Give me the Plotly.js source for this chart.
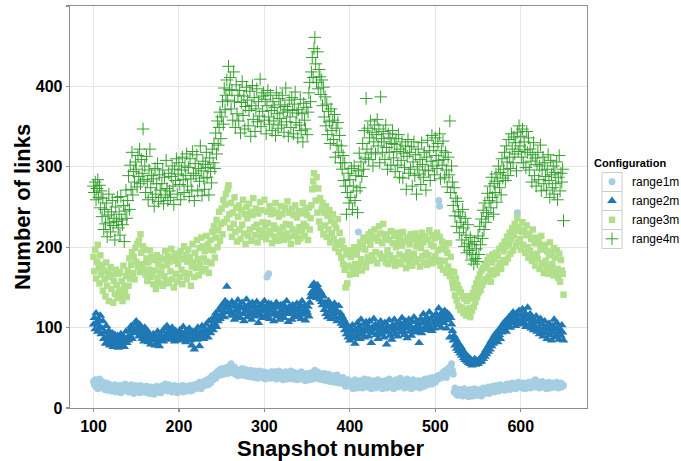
<!DOCTYPE html>
<html>
<head>
<meta charset="utf-8">
<script src="https://cdn.plot.ly/plotly-3.0.1.min.js"></script>
<style>html,body{margin:0;padding:0;background:#fff;}#chart{width:681px;height:461px;}</style>
</head>
<body>
<div id="chart"></div>
<script>
// Snapshot numbers 100..650 (one value per snapshot)
const firstSnapshot = 100;
const seriesNames = ["range1m", "range2m", "range3m", "range4m"];

const range1m = [
33,29,35,27,31,24,30,36,28,26, 33,25,29,23,28,31,22,27,30,24, 26,21,28,25,23,29,20,26,24,27,
22,28,19,25,27,21,24,30,22,26, 25,20,27,23,29,22,26,18,24,28, 23,27,21,25,19,28,24,22,26,20,
24,21,27,19,25,23,18,26,22,20, 23,17,25,21,27,20,24,22,26,19, 25,28,22,26,30,24,27,21,29,25,
23,27,20,26,24,28,22,25,19,27, 24,21,26,22,28,20,25,23,27,21, 26,22,24,28,21,25,27,23,29,24,
26,30,25,28,32,27,24,31,29,33, 28,32,30,35,29,34,37,31,36,40, 35,38,42,37,44,40,46,43,48,41,
45,49,42,47,44,50,46,43,48,52, 47,55,44,49,46,51,42,48,45,40, 44,47,41,45,49,43,46,40,48,44,
42,46,39,44,47,41,45,38,43,46, 40,44,37,42,46,39,43,41,38,45, 41,36,44,163,40,167,43,37,45,39,
42,38,45,40,36,43,39,46,41,37, 44,39,35,42,38,45,40,36,43,37, 40,46,38,42,36,44,39,41,35,43,
38,42,36,45,40,37,43,39,34,41, 37,43,39,35,42,38,44,36,40,47, 42,38,45,40,36,43,39,35,41,37,
43,38,34,40,36,42,37,33,39,35, 40,36,32,38,34,41,35,31,37,33, 36,32,38,30,35,27,33,29,35,31,
28,33,26,31,24,30,35,27,32,25, 219,29,34,27,31,25,30,36,28,32, 26,31,35,28,33,24,30,27,34,29,
25,32,28,35,30,26,33,29,24,31, 27,34,30,25,32,28,36,31,26,33, 29,24,31,27,35,30,26,33,28,37,
31,27,34,29,25,32,28,36,30,26, 33,29,24,31,35,28,33,26,30,34, 28,32,25,30,34,29,33,27,36,31,
34,29,33,37,31,35,30,38,33,36, 32,38,35,40,258,251,37,42,39,44, 40,46,43,38,48,44,50,46,52,55,
47,42,20,25,18,22,16,21,19,23, 17,21,15,19,24,18,22,16,20,14, 19,23,17,21,15,20,24,18,22,16,
20,17,23,19,15,21,25,18,22,19, 23,20,26,18,22,25,21,27,23,20, 24,28,22,26,21,25,29,23,27,24,
26,22,28,24,30,25,27,23,29,26, 31,27,25,29,24,28,243,32,26,30, 27,29,25,31,28,24,30,26,29,32,
28,25,31,27,33,29,26,35,30,27, 32,28,25,30,27,33,29,26,31,28, 24,30,27,32,28,25,29,31,27,30,
26,29,32,28,25,30,27,31,26,29, 28];

const range2m = [
104,112,98,118,106,95,110,101,115,92, 99,108,86,94,80,102,89,84,96,78, 88,82,93,76,86,91,79,84,90,75,
87,80,92,78,85,89,76,83,95,81, 88,84,97,90,102,86,99,93,105,96, 108,95,101,89,104,92,98,86,95,83,
100,91,87,96,82,93,88,79,90,85, 92,84,78,89,81,95,86,77,91,84, 88,95,83,99,90,86,102,93,88,97,
91,85,100,94,88,83,96,90,86,92, 85,97,89,93,84,101,88,94,82,96, 90,86,99,84,92,78,95,87,73,89,
96,85,100,91,77,94,88,102,93,86, 98,90,104,95,88,108,99,93,110,103, 97,112,105,118,101,115,108,122,111,126,
116,128,120,113,133,124,151,130,119,127, 121,115,132,118,126,110,129,122,114,134, 119,127,112,124,131,117,108,126,120,135,
113,122,129,116,125,110,131,119,127,114, 123,132,118,106,127,121,115,129,112,124, 133,120,114,126,118,130,111,124,129,116,
122,108,127,119,131,114,125,117,110,128, 121,115,129,112,124,118,133,120,107,126, 117,123,110,128,119,125,113,122,130,115,
124,118,128,111,133,120,116,127,109,122, 119,126,114,131,138,143,152,146,155,140, 149,137,153,142,147,135,144,132,128,139,
122,131,117,126,113,133,120,128,111,124, 117,126,130,113,121,108,119,127,112,118, 105,114,102,110,97,106,92,100,88,96,
84,99,91,103,87,95,80,98,89,106, 93,101,86,110,97,92,104,88,99,107, 95,102,89,108,96,81,100,93,111,98,
104,91,99,86,103,96,108,92,101,95, 88,106,97,79,102,94,109,90,99,85, 103,96,110,92,100,105,89,98,107,94,
101,112,96,104,91,108,99,87,103,110, 95,102,90,107,98,113,94,100,108,96, 104,81,99,111,93,106,117,98,109,102,
113,97,106,119,101,110,96,114,105,99, 108,117,103,112,124,107,115,100,119,111, 106,121,113,99,118,109,116,88,112,104,
96,84,90,78,86,74,82,71,79,68, 76,65,72,62,69,60,66,58,64,56, 62,55,60,53,58,56,61,54,59,57,
55,60,57,62,58,65,61,68,64,72, 67,75,70,79,73,83,77,86,80,90, 84,93,87,82,97,91,86,100,94,104,
98,107,101,95,110,104,113,107,100,116, 110,119,106,114,102,118,111,108,121,104, 115,109,123,112,106,118,101,114,125,110,
104,117,99,112,106,97,109,101,114,95, 107,100,92,111,96,104,89,99,108,93, 101,86,97,105,91,99,84,102,94,110,
88,98,106,92,101,85,96,90,103,94, 84];

const range3m = [
188,170,197,161,182,203,174,155,190,166, 178,146,171,160,139,181,152,168,133,163, 175,148,166,131,158,142,172,153,137,167,
147,169,140,158,133,177,152,145,164,138, 171,152,186,161,178,194,168,188,160,199, 182,204,176,208,169,216,193,179,201,172,
197,166,186,158,181,172,196,163,188,167, 154,184,171,148,190,162,179,155,187,168, 176,152,185,164,195,158,178,189,155,182,
170,198,160,186,150,192,167,183,157,179, 189,163,195,172,154,185,201,168,190,160, 182,197,167,188,152,176,204,181,163,193,
174,209,185,165,199,178,212,170,201,186, 195,173,214,182,204,168,197,209,180,219, 196,226,187,212,234,200,221,244,208,229,
248,216,259,231,253,266,235,272,277,241, 224,255,213,243,229,262,219,249,207,238, 252,222,210,246,228,259,217,241,204,250,
236,214,254,222,244,208,240,261,225,215, 248,228,206,242,221,256,213,246,231,218, 259,226,210,244,230,216,251,220,241,205,
246,227,213,255,223,243,208,238,220,251, 215,241,225,209,249,229,217,257,212,243, 228,204,248,222,240,214,252,219,237,207,
245,225,211,242,220,255,229,214,247,226, 240,209,249,222,236,252,272,282,292,274, 258,287,243,273,232,261,224,247,255,216,
243,227,251,213,239,222,246,206,233,217, 241,210,229,199,224,206,235,194,218,203, 187,208,179,199,172,150,191,155,177,196,
166,188,175,195,170,200,179,167,191,173, 198,178,206,185,171,202,212,181,197,175, 208,188,216,183,203,219,190,211,184,222,
194,213,180,208,226,192,217,186,205,229, 188,210,181,216,196,179,209,190,220,184, 205,186,214,177,200,218,182,208,191,212,
179,202,219,185,207,189,174,212,194,182, 204,216,187,177,210,192,217,182,201,208, 185,212,176,199,218,189,206,181,214,193,
178,209,190,221,184,203,215,180,201,211, 189,182,218,196,184,213,177,198,207,172, 204,183,197,168,193,176,205,164,188,170,
157,149,169,140,161,134,153,127,148,122, 144,125,139,118,136,122,115,133,119,139, 124,113,136,121,143,126,149,132,155,138,
160,144,166,147,171,153,174,157,179,160, 175,184,163,188,171,157,181,191,166,185, 172,193,168,189,176,198,180,173,202,184,
195,207,181,201,213,186,204,218,192,210, 224,196,215,229,202,221,236,206,225,210, 197,219,231,203,221,193,215,227,200,187,
217,195,210,183,222,190,205,177,212,192, 185,207,173,200,214,180,197,168,203,183, 175,195,167,190,206,172,193,179,165,199,
187,169,196,173,162,192,157,184,171,167, 141];

const range4m = [
276,268,281,259,273,284,262,277,249,270, 238,261,222,247,229,255,213,240,266,231, 219,244,258,227,236,209,250,232,262,224,
241,215,263,234,228,252,207,245,271,236, 258,289,247,302,272,318,265,294,281,306, 297,275,314,288,322,279,309,292,347,284,
301,268,313,282,259,296,322,274,289,262, 285,251,298,266,279,304,257,290,271,262, 279,296,254,287,265,308,273,258,292,270,
262,288,301,276,253,297,283,310,266,291, 305,278,259,296,312,284,268,301,289,316, 276,299,263,310,285,271,319,292,258,304,
289,315,270,298,282,326,295,264,307,286, 272,303,318,287,299,265,311,294,280,322, 305,329,298,342,316,357,327,349,368,335,
362,381,353,398,371,389,408,383,425,396, 411,372,395,358,418,381,349,402,366,389, 357,395,342,380,406,364,388,347,375,399,
383,351,370,394,338,376,401,359,386,344, 372,397,356,381,363,409,350,388,369,392, 358,384,341,376,395,362,353,389,370,345,
381,357,374,339,392,366,348,385,360,377, 352,389,368,343,375,398,356,371,338,383, 362,349,386,370,341,378,393,355,367,336,
371,352,384,345,366,331,379,358,347,374, 340,368,392,405,381,418,436,411,447,461, 428,405,443,397,421,412,390,408,376,399,
362,387,351,378,340,369,356,329,372,345, 358,334,365,312,348,327,355,318,339,305, 326,297,314,283,305,276,241,268,292,255,
284,262,298,247,276,301,258,289,270,243, 295,317,274,306,288,329,297,345,311,385, 322,348,309,336,357,318,343,301,331,352,
316,340,359,326,347,305,387,335,318,344, 331,309,352,324,297,341,318,336,302,329, 345,311,328,294,335,319,302,340,287,322,
308,331,286,317,299,326,272,313,334,292, 318,297,325,276,306,331,289,315,266,300, 322,291,309,278,330,303,287,318,296,271,
312,333,295,320,283,307,339,301,325,290, 336,314,298,329,308,341,285,320,302,332, 309,287,318,296,275,312,290,357,268,301,
281,252,274,239,261,226,257,244,218,238, 231,209,247,224,201,236,215,193,228,205, 196,212,184,203,191,179,207,186,198,182,
214,191,226,203,235,211,246,222,255,231, 243,267,238,258,276,249,287,262,241,279, 268,291,256,282,301,274,293,265,310,286,
297,318,283,326,306,289,334,312,298,341, 322,305,337,316,330,295,343,319,351,326, 338,312,347,305,331,321,299,344,318,336,
296,322,307,281,315,330,289,311,276,303, 318,284,301,327,270,296,312,279,305,288, 271,297,315,283,262,308,290,274,301,266,
293,279,306,259,287,314,270,292,281,297, 233];

const xTickVals = [100, 200, 300, 400, 500, 600];
const yTickVals = [0, 100, 200, 300, 400, 500];
const xTitle = "Snapshot number";
const yTitle = "Number of links";
const legendTitle = "Configuration";

const snapshots = range1m.map((_, i) => firstSnapshot + i);

const colors = ["#a6cee3", "#1f78b4", "#b2df8a", "#33a02c"];
const symbols = ["circle", "triangle-up", "square", "cross-thin"];
const sizes = [7, 8.5, 6.5, 9];
const allSeries = [range1m, range2m, range3m, range4m];

const traces = allSeries.map((vals, k) => ({
  type: "scatter",
  mode: "markers",
  name: seriesNames[k],
  x: snapshots,
  y: vals,
  marker: k === 3
    ? { symbol: symbols[k], size: sizes[k], color: colors[k], line: { color: colors[k], width: 1 } }
    : { symbol: symbols[k], size: sizes[k], color: colors[k], line: { width: 0 } }
}));

const FONT = "Liberation Sans, Arial, Helvetica, sans-serif";
const L = 70, R = 94, T = 6, B = 53;
const PW = 681 - L - R, PH = 461 - T - B;
const px = v => (v - L) / PW;
const py = v => (461 - B - v) / PH;

// legend key boxes
const shapes = [];
const boxTops = [172.5, 191.5, 210.5, 229.5];
boxTops.forEach(t => {
  shapes.push({ type: "rect", xref: "paper", yref: "paper",
    x0: px(602), x1: px(622), y0: py(t + 19), y1: py(t),
    line: { color: "#cccccc", width: 1 }, fillcolor: "rgba(0,0,0,0)", layer: "above" });
});

const axisCommon = {
  showline: true, mirror: true, linecolor: "#8f8f8f", linewidth: 1.3,
  showgrid: true, gridcolor: "#e6e6e6", gridwidth: 1,
  ticks: "outside", ticklen: 3, tickwidth: 1.2, tickcolor: "#8f8f8f",
  zeroline: false,
  tickfont: { family: FONT, size: 16, color: "#000", weight: "bold" }
};

const titleFont = { family: FONT, size: 22, color: "#000", weight: "bold" };

const layout = {
  width: 681, height: 461,
  margin: { l: L, r: R, t: T, b: B, pad: 0, autoexpand: false },
  paper_bgcolor: "#fff", plot_bgcolor: "#fff",
  font: { family: FONT, color: "#000" },
  showlegend: true,
  xaxis: Object.assign({}, axisCommon, {
    range: [72.5, 677.5], tickvals: xTickVals, ticktext: xTickVals.map(String), automargin: false
  }),
  yaxis: Object.assign({}, axisCommon, {
    range: [0, 500.01], tickvals: yTickVals, ticktext: yTickVals.map(String), automargin: false
  }),
  annotations: [
    { text: xTitle, xref: "paper", yref: "paper", x: px(330), y: py(448), xanchor: "center", yanchor: "middle",
      showarrow: false, font: titleFont },
    { text: yTitle, xref: "paper", yref: "paper", x: px(22), y: py(207), xanchor: "center", yanchor: "middle",
      showarrow: false, textangle: -90, font: titleFont }
  ],
  legend: {
    x: px(592), xanchor: "left", y: py(153), yanchor: "top",
    bgcolor: "rgba(0,0,0,0)", borderwidth: 0,
    font: { family: FONT, size: 12, color: "#000" },
    title: { text: legendTitle, font: { family: FONT, size: 11, color: "#000", weight: "bold" } },
    itemsizing: "trace", traceorder: "normal"
  },
  shapes: shapes
};

Plotly.newPlot("chart", traces, layout, { displayModeBar: false, staticPlot: true });
</script>
</body>
</html>
